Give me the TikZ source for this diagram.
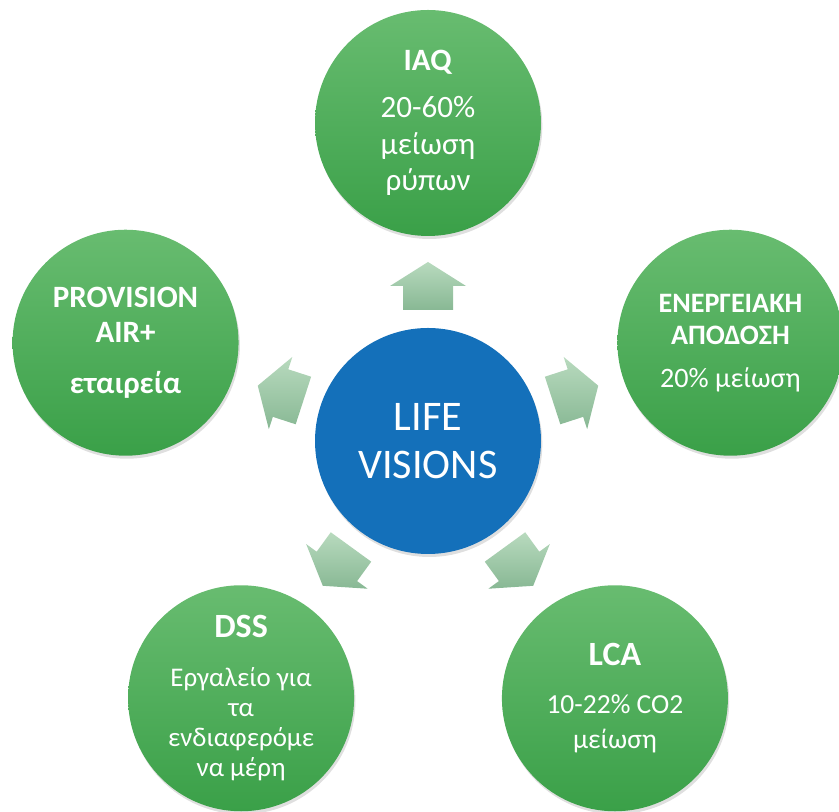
\documentclass[tikz,border=0pt]{standalone}
\usepackage{fontspec}
\setmainfont{Carlito}
\usetikzlibrary{shadows,calc}
\definecolor{vertclair}{RGB}{104,188,112}
\definecolor{vertfonce}{RGB}{58,160,72}
\definecolor{bleu}{RGB}{20,112,186}
\definecolor{flecheclair}{RGB}{184,218,190}
\definecolor{flechefonce}{RGB}{136,184,148}

\begin{document}
\begin{tikzpicture}[x=0.3mm, y=0.3mm]
\tikzset{bulle/.style={circle, minimum size=67.8mm, inner sep=0pt, text=white, align=center,
    top color=vertclair, bottom color=vertfonce,
    drop shadow={opacity=0.25, shadow xshift=0.4mm, shadow yshift=-0.9mm}}}
\tikzset{centre/.style={circle, minimum size=67.8mm, inner sep=0pt, text=white, align=center,
    fill=bleu, font=\fontsize{36}{41}\selectfont,
    drop shadow={opacity=0.25, shadow xshift=0.4mm, shadow yshift=-0.9mm}}}
\tikzset{fleche/.style={top color=flecheclair, bottom color=flechefonce}}
\clip (0, 0) rectangle (839, 812);
\node[centre] (C0) at (428, 371) {LIFE\\VISIONS};
\node[bulle, font=\fontsize{26.5}{31}\selectfont] (C1) at ($(C0)+(90:318)$)
    {\textbf{IAQ}\\[9pt]20-60\%\\μείωση\\ρύπων};
\node[bulle, font=\fontsize{24}{27.5}\selectfont] (C2) at ($(C0)+(18:318)$)
    {\textbf{ΕΝΕΡΓΕΙΑΚΗ}\\\textbf{ΑΠΟΔΟΣΗ}\\[9pt]20\% μείωση};
\node[bulle, font=\fontsize{26.5}{30}\selectfont] (C3) at ($(C0)+(162:318)$)
    {\textbf{PROVISION}\\\textbf{AIR+}\\[13pt]\textbf{εταιρεία}};
\node[bulle, font=\fontsize{23}{25.6}\selectfont] (C4) at ($(C0)+(234:318)$)
    {{\fontsize{29}{30}\selectfont\bfseries DSS}\\[16pt]Εργαλείο για\\τα\\ενδιαφερόμε\\να μέρη};
\node[bulle, font=\fontsize{23.5}{30}\selectfont] (C5) at ($(C0)+(306:318)$)
    {{\fontsize{29}{30}\selectfont\bfseries LCA}\\[11pt]10-22\% CO2\\μείωση};
\foreach \a in {90,18,162,234,306}
  \path[fleche, shift={(C0.center)}, rotate=\a]
    (131,-25) -- (155,-25) -- (155,-38) -- (179,0) -- (155,38) -- (155,25) -- (131,25) -- cycle;
\end{tikzpicture}
\end{document}
